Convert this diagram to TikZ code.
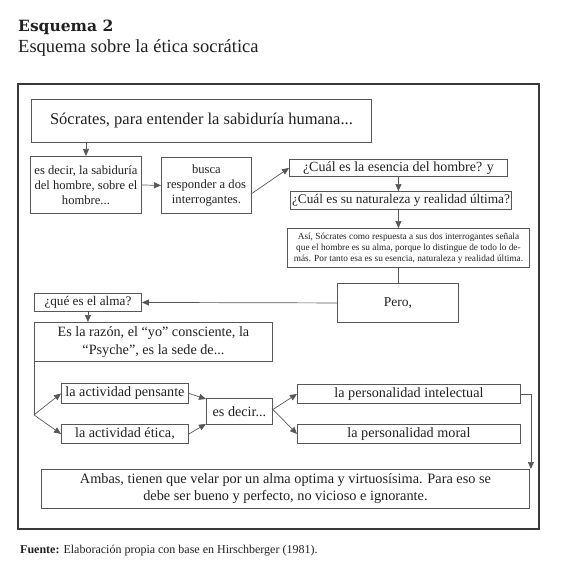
\documentclass[tikz,border=0pt]{standalone}
\usepackage{fontspec}
\setmainfont{Liberation Serif}
\newfontfamily\titlefont{DejaVu Serif}
\usetikzlibrary{arrows.meta,calc}
\definecolor{linegray}{HTML}{5A5656}
\definecolor{framegray}{HTML}{3C3838}
\definecolor{textdark}{HTML}{231F20}
\newcommand{\fs}[2]{\fontsize{#1}{#2}\selectfont}
\begin{document}
\begin{tikzpicture}[x=1pt,y=-1pt,
  box/.style={draw=linegray, line width=0.9pt, inner sep=0pt, align=center, anchor=north west, text=textdark},
  arr/.style={draw=linegray, line width=0.7pt, -{Triangle[length=7pt,width=6pt]}},
  ln/.style={draw=linegray, line width=0.7pt}]
\useasboundingbox (0,0) rectangle (580,564);
% titles
\node[anchor=base west, inner sep=0pt, text=textdark, font=\titlefont\bfseries\fs{15.5}{18}] (t1) at (18,32) {Esquema 2};
\node[anchor=base west, inner sep=0pt, text=textdark, font=\fs{18.5}{21}] (t2) at (18,53) {Esquema sobre la ética socrática};
% frame
\draw[draw=framegray, line width=1.3pt] (18,84) rectangle (539,529);
% boxes
\node[box, minimum width=340pt, minimum height=43pt, font=\fs{16.5}{19}] (b1) at (31,99) {Sócrates, para entender la sabiduría humana...};
\node[box, minimum width=111pt, minimum height=57pt, font=\fs{12.6}{15}] (b2) at (30,156) {es decir, la sabiduría\\del hombre, sobre el\\hombre...};
\node[box, minimum width=90pt, minimum height=56pt, font=\fs{12.6}{15}] (b3) at (161,157) {busca\\responder a dos\\interrogantes.};
\node[box, minimum width=218pt, minimum height=17pt, font=\fs{14}{16}] (b4) at (289,159) {¿Cuál es la esencia del hombre? y};
\node[box, minimum width=221pt, minimum height=18pt, font=\fs{13.3}{16}] (b5) at (290,191) {¿Cuál es su naturaleza y realidad última?};
\node[box, minimum width=242pt, minimum height=39pt, font=\fs{9.3}{11}] (b6) at (287,228) {Así, Sócrates como respuesta a sus dos interrogantes señala\\que el hombre es su alma, porque lo distingue de todo lo de-\\más. Por tanto esa es su esencia, naturaleza y realidad última.};
\node[box, minimum width=121pt, minimum height=39pt, font=\fs{13.5}{16}] (pero) at (337,283) {Pero,};
\node[box, minimum width=107pt, minimum height=18pt, font=\fs{13.2}{16}] (alma) at (34,293) {¿qué es el alma?};
\node[box, minimum width=238pt, minimum height=39pt, font=\fs{14.2}{18}] (razon) at (34,322) {Es la razón, el “yo” consciente, la\\“Psyche”, es la sede de...};
\node[box, minimum width=127pt, minimum height=20pt, font=\fs{14.2}{16}] (pens) at (61,383) {la actividad pensante};
\node[box, minimum width=127pt, minimum height=19pt, font=\fs{14.2}{16}] (etica) at (61,424) {la actividad ética,};
\node[box, minimum width=66pt, minimum height=26pt, font=\fs{14.2}{16}] (esd) at (206,398) {es decir...};
\node[box, minimum width=223pt, minimum height=19pt, font=\fs{14.2}{16}] (intel) at (297,384) {la personalidad intelectual};
\node[box, minimum width=223pt, minimum height=19pt, font=\fs{14.2}{16}] (moral) at (297,424) {la personalidad moral};
\node[box, minimum width=488pt, minimum height=39pt, font=\fs{14.3}{17}] (ambas) at (41,469) {Ambas, tienen que velar por un alma optima y virtuosísima. Para eso se\\debe ser bueno y perfecto, no vicioso e ignorante.};
% footer
\node[anchor=base west, inner sep=0pt, text=textdark, font=\fs{12}{14}] (foot) at (20,553) {\textbf{Fuente:} Elaboración propia con base en Hirschberger (1981).};
% connectors
\draw[arr] (b1.south -| b2.north) -- (b2.north);
\draw[arr] (b2.east) -- (b3.west);
\draw[arr] ($(b3.east)+(0,8)$) -- (b4.west);
\draw[arr] (b4.south) -- (b4.south |- b5.north);
\draw[arr] (b4.south |- b5.south) -- (b4.south |- b6.north);
\draw[ln] (pero.north) -- (pero.north |- b6.south);
\draw[arr] (pero.west) -- (alma.east);
\draw[arr] (alma.south) -- (alma.south |- razon.north);
\coordinate (fork) at ($(razon.south west)+(0,53)$);
\draw[ln] (razon.south west) -- (fork);
\draw[arr] (fork) -- (pens.west);
\draw[arr] (fork) -- (etica.west);
\draw[arr] (pens.east) -- ($(esd.north west)+(0,1)$);
\draw[arr] (etica.east) -- ($(esd.south west)+(0,-1)$);
\draw[arr] ($(esd.east)+(0,-2)$) -- (intel.west);
\draw[arr] ($(esd.east)+(0,-2)$) -- (moral.west);
\draw[arr] (intel.east) -| ($(ambas.north east)+(1,0)$);
\end{tikzpicture}
\end{document}
